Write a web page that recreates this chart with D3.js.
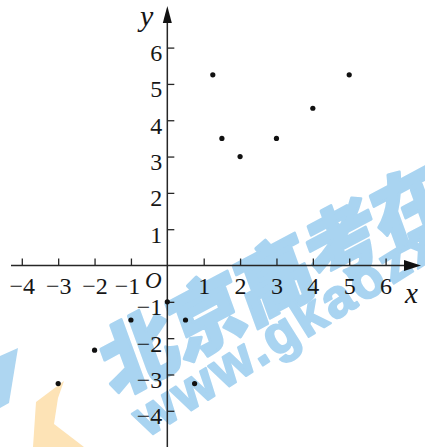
<!DOCTYPE html>
<html>
<head>
<meta charset="utf-8">
<script src="https://cdn.jsdelivr.net/npm/d3@7"></script>
<style>
  html, body { margin: 0; padding: 0; background: #fff; }
  svg { display: block; }
</style>
</head>
<body>
<svg id="chart" width="425" height="447"></svg>
<script>
// Sample points (x, y)
const xValues = [-3, -2, -1, 0, 0.5, 0.75, 1.25, 1.5, 2, 3, 4, 5];
const yValues = [-3.25, -2.33, -1.5, -1, -1.5, -3.25, 5.25, 3.5, 3, 3.5, 4.33, 5.25];

// Axis tick labels (origin labelled separately as "O")
const xTicks = [-4, -3, -2, -1, 1, 2, 3, 4, 5, 6];
const yTicks = [-4, -3, -2, -1, 1, 2, 3, 4, 5, 6];

// Site watermark
const wmChars = ["北", "京", "高", "考", "在"];
const wmUrl = "www.gkaozx.com";

const W = 425, H = 447;
const svg = d3.select("#chart");

const x = d3.scaleLinear().domain([-4, 6]).range([21.8, 385.6]);
const y = d3.scaleLinear().domain([-4, 6]).range([410.8, 47.6]);

const ink = "#262626";
const serif = "'Liberation Serif', 'Times New Roman', serif";
const wmBlue = "#a9d4f1";

// ---- watermark (behind everything) ----
const wm = svg.append("g").attr("class", "watermark");
wm.append("polygon")
  .attr("points", "0,356 18,348 9,403 0,408")
  .attr("fill", "#aed6f1");
wm.append("polygon")
  .attr("points", "64,381 36,402 33,447 84,447 54,424 58,398")
  .attr("fill", "#fde3b6");
const wmStep = [68, -36.5];
const wmStart = [137, 347];
wm.selectAll("text.cn")
  .data(wmChars)
  .join("text")
  .attr("class", "cn")
  .attr("transform", (d, i) =>
    `translate(${wmStart[0] + i * wmStep[0]},${wmStart[1] + i * wmStep[1]}) rotate(-28) skewX(-8)`)
  .attr("text-anchor", "middle")
  .attr("dominant-baseline", "central")
  .attr("font-family", "'Noto Sans CJK SC', sans-serif")
  .attr("font-weight", 900)
  .attr("font-size", 78)
  .attr("fill", wmBlue)
  .attr("stroke", wmBlue)
  .attr("stroke-width", 3)
  .attr("stroke-linejoin", "round")
  .text(d => d);
wm.append("text")
  .attr("transform", "translate(147,438) rotate(-32)")
  .attr("font-family", "'Liberation Sans', Arial, sans-serif")
  .attr("font-weight", 700)
  .attr("font-size", 54)
  .attr("letter-spacing", 3)
  .attr("fill", wmBlue)
  .attr("stroke", wmBlue)
  .attr("stroke-width", 2)
  .attr("stroke-linejoin", "round")
  .text(wmUrl);

// ---- axes ----
const x0 = x(0), y0 = y(0);

const xAxis = d3.axisBottom(x)
  .tickValues(xTicks)
  .tickSizeInner(-7)
  .tickSizeOuter(0)
  .tickFormat(d3.format("d"));
const gx = svg.append("g")
  .attr("transform", `translate(0,${y0})`)
  .call(xAxis);
gx.select(".domain").remove();
gx.selectAll(".tick line").attr("stroke", ink).attr("stroke-width", 1.3);
gx.selectAll(".tick text")
  .attr("y", 28).attr("dy", 0)
  .attr("dx", d => d === -1 ? -4 : 0)
  .attr("font-family", serif)
  .attr("font-size", 24)
  .attr("fill", "#161616");

const yAxis = d3.axisLeft(y)
  .tickValues(yTicks)
  .tickSizeInner(-7)
  .tickSizeOuter(0)
  .tickFormat(d3.format("d"));
const gy = svg.append("g")
  .attr("transform", `translate(${x0},0)`)
  .call(yAxis);
gy.select(".domain").remove();
gy.selectAll(".tick line").attr("stroke", ink).attr("stroke-width", 1.3);
gy.selectAll(".tick text")
  .attr("x", -5).attr("y", 13).attr("dy", 0)
  .attr("font-family", serif)
  .attr("font-size", 24)
  .attr("fill", "#161616");

// axis lines with arrowheads
svg.append("line")
  .attr("x1", 11).attr("x2", 408)
  .attr("y1", y0).attr("y2", y0)
  .attr("stroke", ink).attr("stroke-width", 1.5);
svg.append("path")
  .attr("d", `M${421},${y0} L${404},${y0 - 5.5} L${404},${y0 + 5.5} Z`)
  .attr("fill", "#111");
svg.append("line")
  .attr("x1", x0).attr("x2", x0)
  .attr("y1", H).attr("y2", 20)
  .attr("stroke", ink).attr("stroke-width", 1.5);
svg.append("path")
  .attr("d", `M${x0},${6} L${x0 - 4.5},${23} L${x0 + 4.5},${23} Z`)
  .attr("fill", "#111");

// axis names and origin
svg.append("text")
  .attr("x", 405).attr("y", 303)
  .attr("font-family", serif).attr("font-style", "italic")
  .attr("font-size", 29).attr("fill", "#161616")
  .text("x");
svg.append("text")
  .attr("x", 140).attr("y", 26)
  .attr("font-family", serif).attr("font-style", "italic")
  .attr("font-size", 30).attr("fill", "#161616")
  .text("y");
svg.append("text")
  .attr("x", 145).attr("y", 288)
  .attr("font-family", serif).attr("font-style", "italic")
  .attr("font-size", 23).attr("fill", "#161616")
  .text("O");

// ---- points ----
svg.append("g")
  .selectAll("circle")
  .data(xValues.map((v, i) => [v, yValues[i]]))
  .join("circle")
  .attr("cx", d => x(d[0]))
  .attr("cy", d => y(d[1]))
  .attr("r", 2.6)
  .attr("fill", "#111");
</script>
</body>
</html>
